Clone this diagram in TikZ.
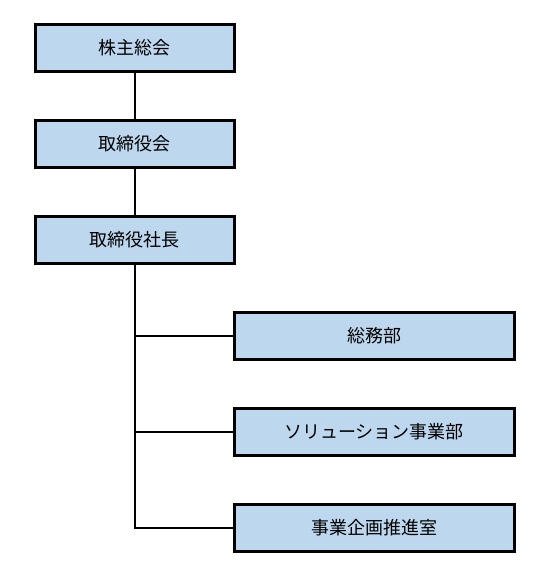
\documentclass[tikz,border=0pt]{standalone}
\usepackage{fontspec}
\newfontfamily\jpfont{Noto Sans CJK JP}
\usetikzlibrary{calc}
\definecolor{boxblue}{HTML}{BDD7EE}
\tikzset{
	orgbox/.style={draw=black, fill=boxblue, line width=3pt, minimum width=199pt, minimum height=47pt, inner sep=0pt, font=\jpfont\fontsize{18}{20}\selectfont},
	deptbox/.style={orgbox, minimum width=280pt},
	orgline/.style={line width=2pt}
}

\begin{document}
\begin{tikzpicture}[x=1pt, y=-1pt]
			%%%%% START %%%%%
			
			\useasboundingbox (0, 0) rectangle (549, 572);
			
			\node[orgbox] (kabunushi) at (134.5, 48) {株主総会};
			\node[orgbox] (torishimari) at (134.5, 144) {取締役会};
			\node[orgbox] (shacho) at (134.5, 240) {取締役社長};
			
			\node[deptbox] (somu) at (374, 336) {総務部};
			\node[deptbox] (solution) at (374, 432) {ソリューション事業部};
			\node[deptbox] (kikaku) at (374, 528) {事業企画推進室};
			
			\coordinate (b1) at (shacho.south |- somu.west);
			\coordinate (b2) at (shacho.south |- solution.west);
			\coordinate (b3) at (shacho.south |- kikaku.west);
			
			\draw[orgline] (kabunushi) -- (torishimari);
			\draw[orgline] (torishimari) -- (shacho);
			\draw[orgline] (shacho.south) -- ($(b3)+(0, 1)$);
			
			\draw[orgline] (b1) -- (somu.west);
			\draw[orgline] (b2) -- (solution.west);
			\draw[orgline] (b3) -- (kikaku.west);
			
			%%%%% END %%%%%
		\end{tikzpicture}
\end{document}
